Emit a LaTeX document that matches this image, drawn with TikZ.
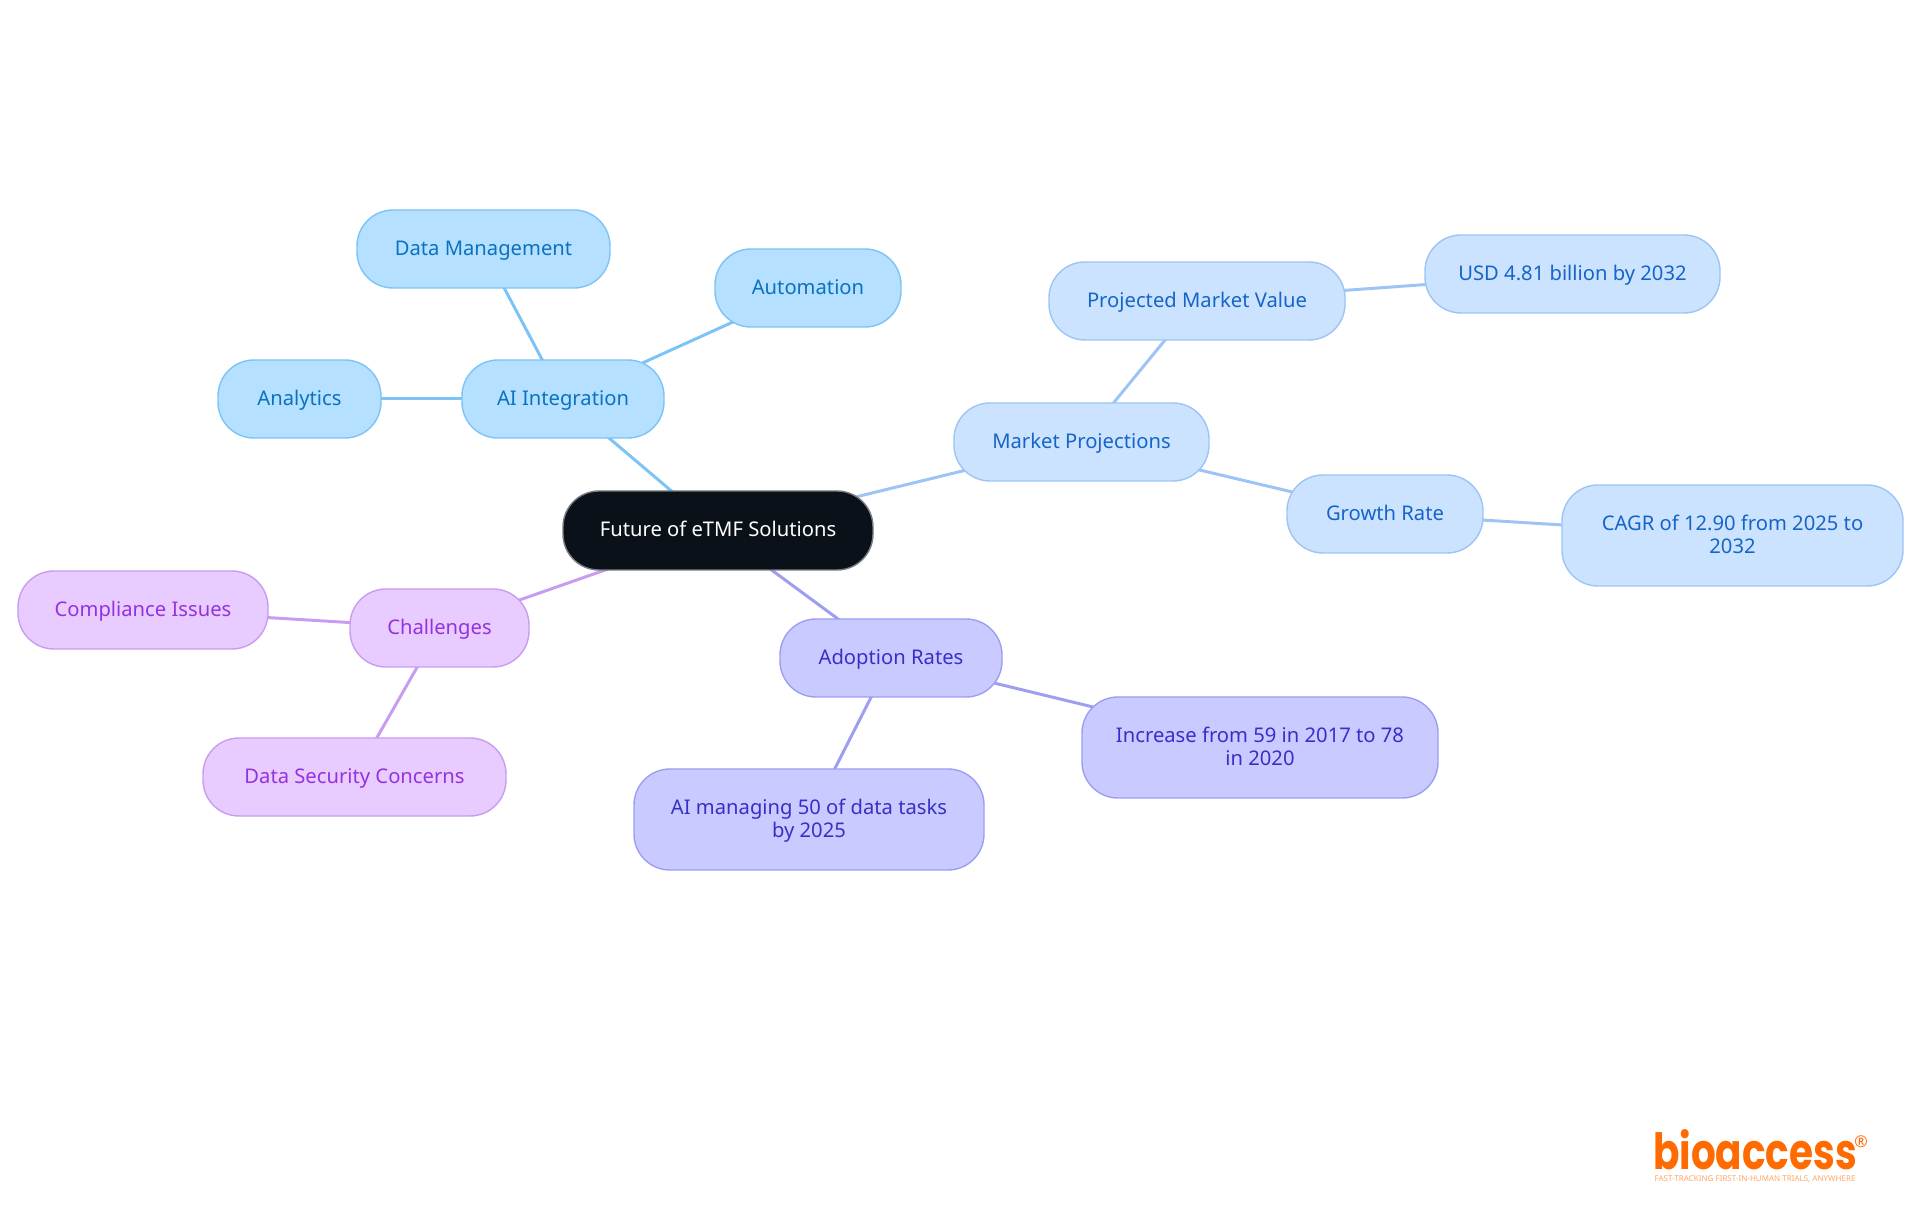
\documentclass[tikz,border=0pt]{standalone}
\usepackage{fontspec}
\setmainfont{Noto Sans}
\newfontfamily\logofont{Poppins}
\usetikzlibrary{positioning, backgrounds}
\definecolor{rootFill}{RGB}{11,17,25}
\definecolor{rootEdge}{RGB}{120,124,130}
\definecolor{aiFill}{RGB}{181,224,255}
\definecolor{aiEdge}{RGB}{124,196,245}
\definecolor{aiText}{RGB}{11,114,192}
\definecolor{mktFill}{RGB}{204,227,255}
\definecolor{mktEdge}{RGB}{156,196,245}
\definecolor{mktText}{RGB}{21,101,200}
\definecolor{adpFill}{RGB}{201,202,255}
\definecolor{adpEdge}{RGB}{158,158,240}
\definecolor{adpText}{RGB}{55,48,200}
\definecolor{chlFill}{RGB}{232,203,255}
\definecolor{chlEdge}{RGB}{200,156,240}
\definecolor{chlText}{RGB}{147,51,224}
\definecolor{logoOrange}{RGB}{255,107,0}

\begin{document}
\begin{tikzpicture}[
    topic/.style={rectangle, rounded corners=0.36cm, line width=0.4pt, minimum height=0.78cm, inner sep=0pt, outer sep=0pt, align=center, text height=4.6pt, text depth=1.1pt, font=\fontsize{5.75}{6.6}\selectfont},
    twoline/.style={minimum height=1.01cm, text height=11.2pt},
    rootbox/.style={topic, fill=rootFill, draw=rootEdge, text=white},
    aibox/.style={topic, fill=aiFill, draw=aiEdge, text=aiText},
    mktbox/.style={topic, fill=mktFill, draw=mktEdge, text=mktText},
    adpbox/.style={topic, fill=adpFill, draw=adpEdge, text=adpText},
    chlbox/.style={topic, fill=chlFill, draw=chlEdge, text=chlText},
    link/.style={line width=0.85pt}
]
\useasboundingbox (0,0) rectangle (19.2,12.15);

% --- Centre ---
\node[rootbox, minimum width=3.1cm, minimum height=0.79cm] (root) at (7.18,6.845) {Future of eTMF Solutions};

% --- AI Integration ---
\node[aibox, minimum width=2.02cm, above left=0.53cm and -1.01cm of root] (ai) {AI Integration};
\node[aibox, minimum width=2.53cm, above left=0.72cm and -1.48cm of ai] (dataman) {Data Management};
\node[aibox, minimum width=1.86cm, above right=0.33cm and 0.51cm of ai] (autom) {Automation};
\node[aibox, minimum width=1.63cm, left=0.81cm of ai] (analytics) {Analytics};

% --- Market Projections ---
\node[mktbox, minimum width=2.55cm, above right=0.10cm and 0.81cm of root] (market) {Market Projections};
\node[mktbox, minimum width=2.96cm, above right=0.63cm and -1.6cm of market] (projected) {Projected Market Value};
\node[mktbox, minimum width=2.95cm, above right=-0.51cm and 0.8cm of projected] (usd) {USD 4.81 billion by 2032};
\node[mktbox, minimum width=1.96cm, below right=-0.06cm and 0.78cm of market] (growth) {Growth Rate};
\node[mktbox, twoline, minimum width=3.41cm, below right=-0.68cm and 0.79cm of growth] (cagr) {CAGR of 12.90 from 2025 to\\2032};

% --- Adoption Rates ---
\node[adpbox, minimum width=2.22cm, below right=0.49cm and -0.93cm of root] (adoption) {Adoption Rates};
\node[adpbox, twoline, minimum width=3.56cm, below right=0cm and 0.8cm of adoption] (increase) {Increase from 59 in 2017 to 78\\in 2020};
\node[adpbox, twoline, minimum width=3.5cm, below left=0.72cm and -2.04cm of adoption] (aimanage) {AI managing 50 of data tasks\\by 2025};

% --- Challenges ---
\node[chlbox, minimum width=1.79cm, below left=0.19cm and 0.34cm of root] (challenges) {Challenges};
\node[chlbox, minimum width=2.5cm, above left=-0.6cm and 0.82cm of challenges] (compliance) {Compliance Issues};
\node[chlbox, minimum width=3.03cm, below left=0.71cm and -1.56cm of challenges] (security) {Data Security Concerns};

% --- Logo ---
\node[inner sep=0pt, text=logoOrange, font=\logofont\bfseries\fontsize{14.2}{14.2}\selectfont] (logo) at (17.55,0.655) {\scalebox{0.78}[1]{bioaccess}};
\node[inner sep=0pt, text=logoOrange, right=-0.04cm of logo.north east, yshift=-0.13cm, font=\fontsize{4.6}{4.6}\selectfont] (regmark) {®};
\node[inner sep=0pt, text=logoOrange!60, below=0.05cm of logo, font=\fontsize{2.28}{2.3}\selectfont] (tagline) {FAST-TRACKING FIRST-IN-HUMAN TRIALS, ANYWHERE};

% === LINKS ===
\begin{scope}[on background layer]
\draw[link, aiEdge] (root.center) -- (ai.center);
\draw[link, aiEdge] (ai.center) -- (dataman.center);
\draw[link, aiEdge] (ai.center) -- (autom.center);
\draw[link, aiEdge] (ai.center) -- (analytics.center);

\draw[link, mktEdge] (root.center) -- (market.center);
\draw[link, mktEdge] (market.center) -- (projected.center);
\draw[link, mktEdge] (projected.center) -- (usd.center);
\draw[link, mktEdge] (market.center) -- (growth.center);
\draw[link, mktEdge] (growth.center) -- (cagr.center);

\draw[link, adpEdge] (root.center) -- (adoption.center);
\draw[link, adpEdge] (adoption.center) -- (increase.center);
\draw[link, adpEdge] (adoption.center) -- (aimanage.center);

\draw[link, chlEdge] (root.center) -- (challenges.center);
\draw[link, chlEdge] (challenges.center) -- (compliance.center);
\draw[link, chlEdge] (challenges.center) -- (security.center);
\end{scope}

\end{tikzpicture}
\end{document}
